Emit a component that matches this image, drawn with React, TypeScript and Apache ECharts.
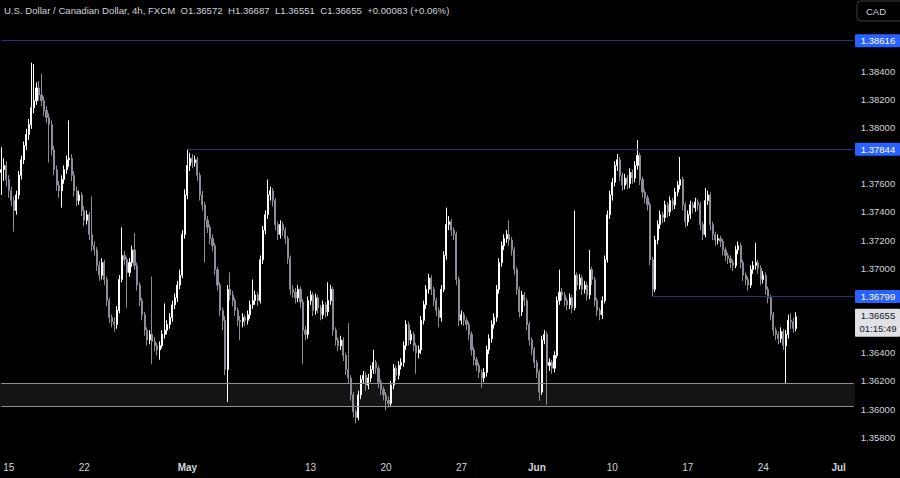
import React, { useEffect, useRef } from 'react';
import * as echarts from 'echarts';

// Candles: [open, close, low, high] in units of 0.0001 (price x 10000)
const wkApr12 = [
  [13768,13770,13752,13786],[13770,13773,13762,13778],[13773,13763,13758,13776],
];
const wkApr15 = [
  [13763,13755,13750,13766],[13755,13748,13744,13758],[13748,13741,13726,13751],[13741,13752,13738,13755],
  [13752,13766,13749,13769],[13766,13777,13763,13780],[13777,13787,13774,13790],[13787,13795,13784,13799],
  [13795,13802,13791,13806],[13802,13814,13799,13846],[13814,13819,13810,13845],[13819,13828,13816,13832],
  [13828,13823,13819,13833],[13823,13819,13815,13838],[13819,13812,13808,13822],[13812,13807,13803,13815],
  [13807,13802,13775,13810],[13802,13784,13780,13805],[13784,13770,13766,13787],[13770,13759,13755,13773],
  [13759,13755,13750,13762],[13755,13763,13743,13766],[13763,13770,13760,13773],[13770,13777,13767,13780],
  [13777,13778,13772,13805],[13778,13766,13762,13781],[13766,13755,13751,13769],[13755,13748,13744,13758],
  [13748,13752,13745,13755],[13752,13741,13737,13754],
];
const wkApr22 = [
  [13741,13734,13730,13744],[13734,13738,13731,13741],[13738,13724,13720,13740],[13724,13716,13712,13751],
  [13716,13713,13709,13719],[13713,13702,13698,13715],[13702,13695,13691,13705],[13695,13704,13692,13707],
  [13704,13692,13688,13706],[13692,13677,13673,13694],[13677,13665,13661,13679],[13665,13662,13658,13667],
  [13662,13660,13655,13665],[13660,13670,13657,13673],[13670,13692,13668,13695],[13692,13709,13690,13729],
  [13709,13706,13702,13712],[13706,13697,13672,13708],[13697,13704,13694,13707],[13704,13713,13701,13716],
  [13713,13702,13699,13725],[13702,13688,13684,13704],[13688,13677,13673,13690],[13677,13667,13663,13679],
  [13667,13656,13652,13669],[13656,13649,13645,13658],[13649,13653,13646,13656],[13653,13648,13632,13694],
  [13648,13645,13641,13651],[13645,13642,13638,13647],
];
const wkApr29 = [
  [13642,13645,13635,13648],[13645,13653,13643,13656],[13653,13656,13650,13675],[13656,13660,13653,13663],
  [13660,13665,13657,13668],[13665,13674,13662,13677],[13674,13679,13671,13682],[13679,13688,13676,13691],
  [13688,13695,13685,13699],[13695,13724,13693,13727],[13724,13752,13721,13756],[13752,13773,13749,13784.4],
  [13773,13778,13769,13782],[13778,13775,13771,13781],[13775,13777,13772,13780],[13777,13766,13762,13779],
  [13766,13752,13748,13768],[13752,13745,13741,13755],[13745,13734,13704,13747],[13734,13729,13725,13737],
  [13729,13721,13717,13731],[13721,13716,13712,13724],[13716,13699,13695,13718],[13699,13688,13684,13701],
  [13688,13670,13666,13690],[13670,13663,13656,13672],[13663,13628,13624,13666],[13628,13685,13605,13688],
  [13685,13681,13677,13697],[13681,13677,13673,13684],
];
const wkMay6 = [
  [13677,13670,13666,13679],[13670,13663,13659,13672],[13663,13662,13649,13666],[13662,13665,13658,13668],
  [13665,13663,13659,13667],[13663,13667,13660,13670],[13667,13674,13664,13677],[13674,13677,13671,13692],
  [13677,13681,13674,13684],[13681,13677,13673,13683],[13677,13706,13675,13709],[13706,13727,13703,13730],
  [13727,13738,13724,13741],[13738,13752,13735,13763],[13752,13755,13748,13758],[13755,13748,13744,13757],
  [13748,13731,13727,13750],[13731,13724,13720,13733],[13724,13731,13721,13734],[13731,13727,13723,13733],
  [13727,13721,13717,13729],[13721,13707,13703,13723],[13707,13685,13681,13709],[13685,13683,13679,13688],
  [13683,13679,13675,13686],[13679,13685,13676,13688],[13685,13676,13672,13687],[13676,13656,13632,13678],
  [13656,13653,13649,13659],[13653,13677,13650,13680],
];
const wkMay13 = [
  [13677,13681,13674,13684],[13681,13670,13666,13683],[13670,13679,13667,13682],[13679,13672,13668,13681],
  [13672,13667,13663,13674],[13667,13674,13664,13677],[13674,13669,13665,13676],[13669,13677,13666,13690],
  [13677,13685,13674,13688],[13685,13656,13652,13687],[13656,13649,13645,13658],[13649,13645,13641,13651],
  [13645,13649,13642,13652],[13649,13638,13634,13651],[13638,13628,13624,13640],[13628,13622,13618,13661],
  [13622,13610,13606,13624],[13610,13598,13594,13612],[13598,13594,13590,13600],[13594,13610,13592,13613],
  [13610,13621,13607,13624],[13621,13624,13618,13627],[13624,13617,13613,13626],[13617,13622,13614,13625],
  [13622,13628,13619,13631],[13628,13633,13625,13642],[13633,13629,13625,13635],[13629,13619,13615,13631],
  [13619,13614,13610,13621],[13614,13610,13606,13616],
];
const wkMay20 = [
  [13610,13606,13599,13612],[13606,13604,13601,13609],[13604,13617,13602,13620],[13617,13629,13614,13632],
  [13629,13624,13620,13631],[13624,13631,13621,13634],[13631,13633,13628,13636],[13633,13645,13630,13648],
  [13645,13660,13642,13663],[13660,13649,13645,13662],[13649,13653,13646,13656],[13653,13645,13641,13655],
  [13645,13640,13625,13647],[13640,13642,13636,13645],[13642,13663,13639,13666],[13663,13674,13660,13677],
  [13674,13685,13671,13688],[13685,13693,13682,13696],[13693,13685,13681,13695],[13685,13677,13673,13687],
  [13677,13670,13666,13679],[13670,13665,13658,13672],[13665,13685,13662,13688],[13685,13709,13683,13712],
  [13709,13731,13706,13743],[13731,13733,13727,13737],[13733,13727,13723,13735],[13727,13724,13720,13729],
  [13724,13692,13688,13726],[13692,13663,13659,13694],
];
const wkMay27 = [
  [13663,13667,13660,13670],[13667,13663,13659,13669],[13663,13660,13656,13665],[13660,13653,13649,13662],
  [13653,13642,13638,13655],[13642,13635,13631,13644],[13635,13631,13627,13637],[13631,13626,13622,13633],
  [13626,13622,13615,13628],[13622,13626,13619,13629],[13626,13642,13623,13645],[13642,13650,13639,13653],
  [13650,13660,13647,13663],[13660,13665,13657,13668],[13665,13685,13662,13688],[13685,13704,13682,13707],
  [13704,13716,13701,13719],[13716,13721,13713,13724],[13721,13724,13718,13727],[13724,13720,13716,13734],
  [13720,13713,13709,13722],[13713,13699,13695,13715],[13699,13685,13681,13701],[13685,13669,13665,13687],
  [13669,13681,13666,13684],[13681,13677,13673,13683],[13677,13660,13656,13679],[13660,13649,13645,13662],
  [13649,13642,13638,13651],[13642,13633,13629,13644],
];
const wkJun3 = [
  [13633,13626,13622,13635],[13626,13612,13606,13628],[13612,13649,13610,13652],[13649,13653,13646,13656],
  [13653,13631,13603,13655],[13631,13633,13627,13636],[13633,13629,13625,13635],[13629,13638,13626,13641],
  [13638,13677,13636,13680],[13677,13683,13674,13699],[13683,13681,13677,13686],[13681,13677,13673,13683],
  [13677,13674,13670,13679],[13674,13679,13671,13682],[13679,13672,13668,13681],[13672,13695,13670,13741],
  [13695,13688,13684,13697],[13688,13693,13685,13696],[13693,13685,13681,13695],[13685,13688,13682,13691],
  [13688,13681,13677,13690],[13681,13699,13678,13713],[13699,13692,13688,13701],[13692,13677,13673,13694],
  [13677,13670,13666,13679],[13670,13667,13663,13672],[13667,13677,13664,13680],[13677,13706,13675,13709],
  [13706,13738,13704,13741],[13738,13752,13735,13755],
];
const wkJun10 = [
  [13752,13761,13748,13764],[13761,13773,13758,13776],[13773,13777,13769,13781],[13777,13766,13762,13779],
  [13766,13759,13755,13768],[13759,13764,13756,13767],[13764,13760,13756,13766],[13760,13768,13757,13771],
  [13768,13764,13760,13770],[13764,13773,13761,13776],[13773,13780,13770,13791],[13780,13763,13759,13782],
  [13763,13754,13750,13765],[13754,13750,13746,13756],[13750,13745,13741,13752],[13745,13706,13702,13747],
  [13706,13685,13679.9,13708],[13685,13720,13683,13723],[13720,13731,13717,13734],[13731,13738,13728,13741],
  [13738,13736,13732,13740],[13736,13745,13733,13748],[13745,13740,13736,13747],[13740,13748,13737,13751],
  [13748,13745,13741,13750],[13745,13754,13742,13757],[13754,13759,13751,13762],[13759,13763,13756,13779],
  [13763,13745,13741,13765],[13745,13733,13729,13747],
];
const wkJun17 = [
  [13733,13738,13730,13741],[13738,13745,13735,13748],[13745,13743,13739,13747],[13743,13747,13740,13750],
  [13747,13745,13741,13749],[13745,13731,13727,13747],[13731,13724,13720,13733],[13724,13748,13722,13757],
  [13748,13752,13745,13755],[13752,13731,13727,13754],[13731,13724,13720,13733],[13724,13720,13716,13726],
  [13720,13721,13717,13724],[13721,13719,13715,13723],[13719,13713,13709,13721],[13713,13709,13705,13715],
  [13709,13707,13703,13711],[13707,13704,13700,13709],[13704,13702,13698,13706],[13702,13713,13700,13716],
  [13713,13716,13710,13719],[13716,13704,13700,13718],[13704,13695,13691,13706],[13695,13692,13688,13697],
  [13692,13688,13684,13694],[13688,13699,13686,13702],[13699,13702,13696,13705],[13702,13704,13699,13718],
  [13704,13700,13696,13706],[13700,13692,13688,13702],
];
const wkJun24 = [
  [13692,13695,13689,13698],[13695,13685,13681,13697],[13685,13679,13675,13687],[13679,13667,13663,13681],
  [13667,13656,13652,13669],[13656,13653,13649,13658],[13653,13650,13646,13655],[13650,13655,13647,13658],
  [13655,13645,13642,13657],[13645,13653,13618,13656],[13653,13663,13650,13667],[13663,13662,13657,13668],
  [13662,13657.2,13654,13665],[13657.2,13665.5,13655.1,13668.7],
];

const SLOT_COUNT = 340;
const xTickIndex = [3, 33, 74, 123, 153, 183, 213, 243, 273, 303, 333];
const xTickText = ['15', '22', 'May', '13', '20', '27', 'Jun', '10', '17', '24', 'Jul'];
const monthNames = ['May', 'Jun', 'Jul'];
const yTickValues = [1.358, 1.36, 1.362, 1.364, 1.37, 1.372, 1.374, 1.376, 1.38, 1.382, 1.384];

const levelTop = 1.38616;
const levelMid = 1.37844;
const levelMidStart = 74;
const levelLow = 1.36799;
const levelLowStart = 259;
const zoneHigh = 1.36185;
const zoneLow = 1.36021;
const lastPrice = 1.36655;
const countdown = '01:15:49';
const headerTitle = 'U.S. Dollar / Canadian Dollar, 4h, FXCM';
const headerValues = ['O1.36572', 'H1.36687', 'L1.36551', 'C1.36655', '+0.00083 (+0.06%)'];
const currency = 'CAD';

const FONT = 'Liberation Sans, Arial, sans-serif';

export default function App() {
  const ref = useRef<HTMLDivElement>(null);
  useEffect(() => {
    if (!ref.current) return;
    const chart = echarts.init(ref.current, undefined, { renderer: 'svg' });
    const weeks = [wkApr12, wkApr15, wkApr22, wkApr29, wkMay6, wkMay13, wkMay20, wkMay27, wkJun3, wkJun10, wkJun17, wkJun24];
    const candles = weeks.flat().map((c) => c.map((v) => v / 10000));
    const categories = Array.from({ length: SLOT_COUNT }, (_, i) => String(i));
    const tickMap: Record<string, string> = {};
    xTickIndex.forEach((idx, k) => { tickMap[String(idx)] = xTickText[k]; });
    const lastSlot = String(SLOT_COUNT - 1);

    const blue = '#2b3478';
    const grey = '#8e8e8e';
    const hLine = (from: string, v: number, color: string) => [
      { coord: [from, v], lineStyle: { color, width: 1, type: 'solid' } },
      { coord: [lastSlot, v] },
    ];
    const option: any = {
      animation: false,
      backgroundColor: '#000000',
      grid: { left: 0, right: 45, top: 0, bottom: 23, containLabel: false },
      xAxis: {
        type: 'category',
        data: categories,
        boundaryGap: true,
        axisLine: { show: false },
        axisTick: { show: false },
        splitLine: { show: false },
        axisLabel: {
          interval: (i: number) => tickMap[String(i)] !== undefined,
          margin: 7,
          color: '#d1d4dc',
          fontSize: 10,
          fontFamily: FONT,
          formatter: (v: string) => {
            const t = tickMap[v] ?? '';
            return monthNames.includes(t) ? `{m|${t}}` : t;
          },
          rich: { m: { fontWeight: 'bold', fontSize: 10, color: '#d1d4dc', fontFamily: FONT } },
        },
      },
      yAxis: {
        type: 'value',
        position: 'right',
        min: 1.356733,
        max: 1.389048,
        splitLine: { show: false },
        axisLine: { show: false },
        axisTick: { show: false },
        axisLabel: {
          customValues: yTickValues,
          formatter: (v: number) => v.toFixed(5),
          color: '#d1d4dc',
          fontSize: 9.5,
          fontFamily: FONT,
          align: 'center',
          margin: 23,
        },
      },
      series: [
        {
          type: 'candlestick',
          data: candles,
          barWidth: 1.6,
          itemStyle: {
            color: '#ffffff',
            color0: '#8a8d96',
            borderColor: '#ffffff',
            borderColor0: '#8a8d96',
            borderWidth: 1,
          },
          markArea: {
            silent: true,
            itemStyle: { color: '#141414', borderWidth: 0 },
            data: [[{ yAxis: zoneLow }, { yAxis: zoneHigh }]],
          },
          markLine: {
            silent: true,
            symbol: ['none', 'none'],
            label: { show: false },
            data: [
              hLine('0', levelTop, blue),
              hLine(String(levelMidStart), levelMid, blue),
              hLine(String(levelLowStart), levelLow, blue),
              hLine('0', zoneHigh, grey),
              hLine('0', zoneLow, grey),
            ],
          },
        },
      ],
    };
    chart.setOption(option);

    const yOf = (v: number) => chart.convertToPixel({ yAxisIndex: 0 }, v) as number;
    const boxX = 855;
    const boxW = 45;
    const blueBox = (v: number) => {
      const y = yOf(v);
      return [
        { type: 'rect', shape: { x: boxX, y: y - 6.5, width: boxW, height: 13, r: 1 }, style: { fill: '#2962ff' }, z: 100 },
        {
          type: 'text', x: boxX + 23, y: y, z: 101,
          style: { text: v.toFixed(5), fill: '#ffffff', font: `9.5px ${FONT}`, align: 'center', verticalAlign: 'middle' },
        },
      ];
    };
    const yLast = yOf(lastPrice);
    const gap = '\u00a0\u00a0';
    const headerText = [headerTitle, ...headerValues].join(gap);
    chart.setOption({
      graphic: [
        { type: 'text', x: 4, y: 10, z: 100, style: { text: headerText, fill: '#d1d4dc', font: `9.6px ${FONT}`, verticalAlign: 'middle' } },
        { type: 'rect', shape: { x: 857, y: 1, width: 48, height: 20, r: 4 }, style: { fill: '#000000', stroke: '#3a3e48', lineWidth: 1 }, z: 100 },
        { type: 'text', x: 866, y: 11, z: 101, style: { text: currency, fill: '#d1d4dc', font: `9.5px ${FONT}`, verticalAlign: 'middle' } },
        ...blueBox(levelTop),
        ...blueBox(levelMid),
        ...blueBox(levelLow),
        { type: 'rect', shape: { x: boxX, y: yLast - 8, width: boxW, height: 28, r: 1 }, style: { fill: '#dfe1e6' }, z: 100 },
        { type: 'text', x: boxX + 23, y: yLast - 1, z: 101, style: { text: lastPrice.toFixed(5), fill: '#131722', font: `9.5px ${FONT}`, align: 'center', verticalAlign: 'middle' } },
        { type: 'text', x: boxX + 23, y: yLast + 12, z: 101, style: { text: countdown, fill: '#131722', font: `9.5px ${FONT}`, align: 'center', verticalAlign: 'middle' } },
      ],
    });
    return () => chart.dispose();
  }, []);
  return <div ref={ref} style={{ position: 'fixed', left: 0, top: 0, width: 900, height: 478 }} />;
}
